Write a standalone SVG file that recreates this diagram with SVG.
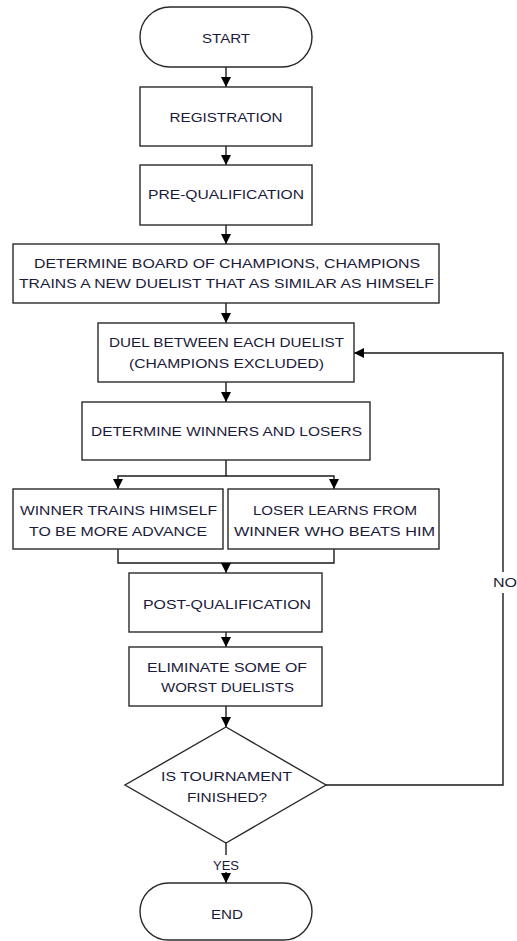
<svg xmlns="http://www.w3.org/2000/svg" width="517" height="941" viewBox="0 0 517 941">
<style>
.s{fill:#fff;stroke:#2a2a2a;stroke-width:1.4}
.c{fill:none;stroke:#1a1a1a;stroke-width:1.4}
text{font-family:"Liberation Sans",Arial,sans-serif;font-size:13.5px;fill:#1a1a3a;text-anchor:middle}
</style>
<defs>
<marker id="ah" markerWidth="10" markerHeight="10" refX="10" refY="5" orient="auto" markerUnits="userSpaceOnUse">
<path d="M0,0 L10,5 L0,10 Z" fill="#000"/>
</marker>
</defs>
<rect width="517" height="941" fill="#fff"/>
<g id="connectors">
<line class="c" x1="226" y1="67" x2="226" y2="87" marker-end="url(#ah)"/>
<line class="c" x1="226" y1="146" x2="226" y2="165" marker-end="url(#ah)"/>
<line class="c" x1="226" y1="225" x2="226" y2="244" marker-end="url(#ah)"/>
<line class="c" x1="226" y1="303" x2="226" y2="323" marker-end="url(#ah)"/>
<line class="c" x1="226" y1="382" x2="226" y2="402" marker-end="url(#ah)"/>
<polyline class="c" points="226,460 226,476 118,476 118,489" marker-end="url(#ah)"/>
<polyline class="c" points="226,476 334,476 334,489" marker-end="url(#ah)"/>
<polyline class="c" points="118,549 118,563 334,563 334,549"/>
<line class="c" x1="226" y1="563" x2="226" y2="573" marker-end="url(#ah)"/>
<line class="c" x1="226" y1="632" x2="226" y2="647" marker-end="url(#ah)"/>
<line class="c" x1="226" y1="706" x2="226" y2="727" marker-end="url(#ah)"/>
<polyline class="c" points="226,843 226,855"/>
<line class="c" x1="226" y1="872" x2="226" y2="883" marker-end="url(#ah)"/>
<polyline class="c" points="326,785 503,785 503,593"/>
<polyline class="c" points="503,572 503,353 354,353" marker-end="url(#ah)"/>
<text x="505" y="587" textLength="24" lengthAdjust="spacingAndGlyphs">NO</text>
<text x="226" y="870" textLength="26" lengthAdjust="spacingAndGlyphs">YES</text>
</g>
<g id="start">
<rect class="s" x="140" y="7" width="172" height="60" rx="30" ry="30"/>
<text x="226" y="43" textLength="48" lengthAdjust="spacingAndGlyphs">START</text>
</g>
<g id="registration">
<rect class="s" x="140" y="87" width="172" height="59"/>
<text x="226" y="122" textLength="113" lengthAdjust="spacingAndGlyphs">REGISTRATION</text>
</g>
<g id="prequal">
<rect class="s" x="140" y="165" width="172" height="60"/>
<text x="226" y="199" textLength="156" lengthAdjust="spacingAndGlyphs">PRE-QUALIFICATION</text>
</g>
<g id="champions">
<rect class="s" x="13" y="244" width="426" height="59"/>
<text x="227" y="268" textLength="386" lengthAdjust="spacingAndGlyphs">DETERMINE BOARD OF CHAMPIONS, CHAMPIONS</text>
<text x="226.5" y="288" textLength="415" lengthAdjust="spacingAndGlyphs">TRAINS A NEW DUELIST THAT AS SIMILAR AS HIMSELF</text>
</g>
<g id="duel">
<rect class="s" x="98" y="323" width="256" height="59"/>
<text x="226.5" y="347" textLength="235" lengthAdjust="spacingAndGlyphs">DUEL BETWEEN EACH DUELIST</text>
<text x="226.5" y="368" textLength="195" lengthAdjust="spacingAndGlyphs">(CHAMPIONS EXCLUDED)</text>
</g>
<g id="winners">
<rect class="s" x="82" y="402" width="288" height="58"/>
<text x="226.5" y="436" textLength="271" lengthAdjust="spacingAndGlyphs">DETERMINE WINNERS AND LOSERS</text>
</g>
<g id="winner">
<rect class="s" x="13" y="489" width="210" height="60"/>
<text x="118.5" y="515" textLength="197" lengthAdjust="spacingAndGlyphs">WINNER TRAINS HIMSELF</text>
<text x="118" y="536" textLength="178" lengthAdjust="spacingAndGlyphs">TO BE MORE ADVANCE</text>
</g>
<g id="loser">
<rect class="s" x="228" y="489" width="211" height="60"/>
<text x="335" y="515" textLength="164" lengthAdjust="spacingAndGlyphs">LOSER LEARNS FROM</text>
<text x="334.5" y="536" textLength="201" lengthAdjust="spacingAndGlyphs">WINNER WHO BEATS HIM</text>
</g>
<g id="postqual">
<rect class="s" x="129" y="573" width="193" height="59"/>
<text x="227" y="609" textLength="168" lengthAdjust="spacingAndGlyphs">POST-QUALIFICATION</text>
</g>
<g id="eliminate">
<rect class="s" x="129" y="647" width="193" height="59"/>
<text x="227" y="672" textLength="160" lengthAdjust="spacingAndGlyphs">ELIMINATE SOME OF</text>
<text x="227.5" y="692" textLength="133" lengthAdjust="spacingAndGlyphs">WORST DUELISTS</text>
</g>
<g id="decision">
<polygon class="s" points="226,727 326,785 226,843 125,785"/>
<text x="226.5" y="781" textLength="131" lengthAdjust="spacingAndGlyphs">IS TOURNAMENT</text>
<text x="227" y="802" textLength="80" lengthAdjust="spacingAndGlyphs">FINISHED?</text>
</g>
<g id="end">
<rect class="s" x="140" y="883" width="172" height="57" rx="28.5" ry="28.5"/>
<text x="227" y="919" textLength="32" lengthAdjust="spacingAndGlyphs">END</text>
</g>
</svg>
